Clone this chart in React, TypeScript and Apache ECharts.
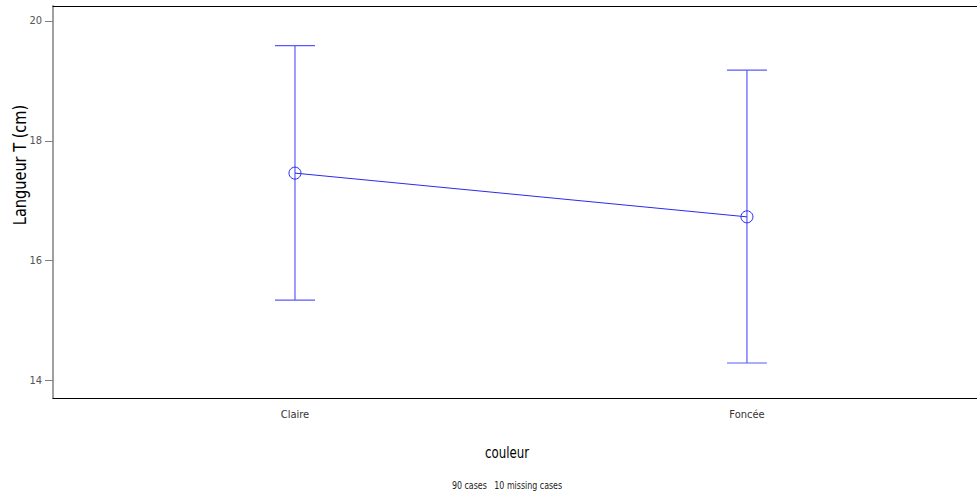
import React, { useEffect, useRef } from "react";
import * as echarts from "echarts";

const categories = ["Claire", "Foncée"];
const means = [17.46, 16.73];
const upper = [19.59, 19.18];
const lower = [15.34, 14.29];
const yTicks = [14, 16, 18, 20];
const yTitle = "Langueur T (cm)";
const xTitle = "couleur";
const footer = "90 cases   10 missing cases";

const FONT = "'Liberation Sans Narrow', 'DejaVu Sans Condensed', 'DejaVu Sans', sans-serif";

export default function App() {
  const ref = useRef<HTMLDivElement>(null);
  useEffect(() => {
    if (!ref.current) return;
    const chart = echarts.init(ref.current, undefined, { renderer: "svg" });
    const positions = categories.map((_, i) => i + 1);
    const lineData = positions.map((x, i) => [x, means[i]]);
    const barData = positions.map((x, i) => [x, lower[i], upper[i]]);
    const xMin = 0.4646;
    const xMax = 2.509;
    chart.setOption({
      animation: false,
      backgroundColor: "#ffffff",
      grid: {
        left: 53,
        right: 0,
        top: 6,
        bottom: 96,
        show: false,
      },
      xAxis: [
        {
          type: "value",
          position: "bottom",
          min: xMin,
          max: xMax,
          splitLine: { show: false },
          axisLine: { show: true, lineStyle: { color: "#000000", width: 1 } },
          axisTick: { show: false },
          axisLabel: {
            customValues: positions,
            formatter: (v: number) => categories[Math.round(v) - 1] ?? "",
            color: "#333333",
            fontFamily: FONT,
            fontSize: 11,
            margin: 11,
          },
        },
        {
          type: "value",
          position: "top",
          min: xMin,
          max: xMax,
          splitLine: { show: false },
          axisLine: { show: true, lineStyle: { color: "#000000", width: 1 } },
          axisTick: { show: false },
          axisLabel: { show: false },
        },
      ],
      yAxis: {
        type: "value",
        min: 13.706,
        max: 20.25,
        splitLine: { show: false },
        axisLine: { show: true, lineStyle: { color: "#a0a0a0", width: 2 } },
        axisTick: {
          show: true,
          customValues: yTicks,
          length: 8,
          lineStyle: { color: "#808080", width: 1 },
        },
        axisLabel: {
          customValues: yTicks,
          color: "#555555",
          fontFamily: FONT,
          fontSize: 11,
          margin: 11,
        },
      },
      series: [
        {
          type: "custom",
          data: barData,
          encode: { x: 0, y: [1, 2] },
          z: 1,
          renderItem: (params: any, api: any) => {
            const x = api.value(0);
            const lo = api.coord([x, api.value(1)]);
            const hi = api.coord([x, api.value(2)]);
            const half = 20;
            const style = { stroke: "#5a5aff", lineWidth: 1.2 };
            return {
              type: "group",
              children: [
                { type: "line", shape: { x1: lo[0], y1: lo[1], x2: hi[0], y2: hi[1] }, style },
                { type: "line", shape: { x1: hi[0] - half, y1: hi[1], x2: hi[0] + half, y2: hi[1] }, style },
                { type: "line", shape: { x1: lo[0] - half, y1: lo[1], x2: lo[0] + half, y2: lo[1] }, style },
              ],
            };
          },
        },
        {
          type: "line",
          data: lineData,
          z: 2,
          symbol: "circle",
          symbolSize: 12,
          lineStyle: { color: "#2a2aee", width: 1 },
          itemStyle: { color: "rgba(0,0,0,0)", borderColor: "#2a2aee", borderWidth: 1 },
        },
      ],
      graphic: [
        {
          type: "text",
          x: 20,
          y: 165,
          rotation: Math.PI / 2,
          scaleX: 0.95,
          style: {
            text: yTitle,
            fill: "#000000",
            font: `17px ${FONT}`,
            textAlign: "center",
            textVerticalAlign: "middle",
          },
        },
        {
          type: "text",
          x: 507,
          y: 452,
          scaleX: 0.82,
          style: {
            text: xTitle,
            fill: "#000000",
            font: `16px ${FONT}`,
            textAlign: "center",
            textVerticalAlign: "middle",
          },
        },
        {
          type: "text",
          x: 507,
          y: 485,
          scaleX: 0.8,
          style: {
            text: footer,
            fill: "#222222",
            font: `11px ${FONT}`,
            textAlign: "center",
            textVerticalAlign: "middle",
          },
        },
      ],
    });
    return () => chart.dispose();
  }, []);
  return (
    <div
      ref={ref}
      style={{ position: "fixed", left: 0, top: 0, width: 977, height: 494 }}
    />
  );
}
